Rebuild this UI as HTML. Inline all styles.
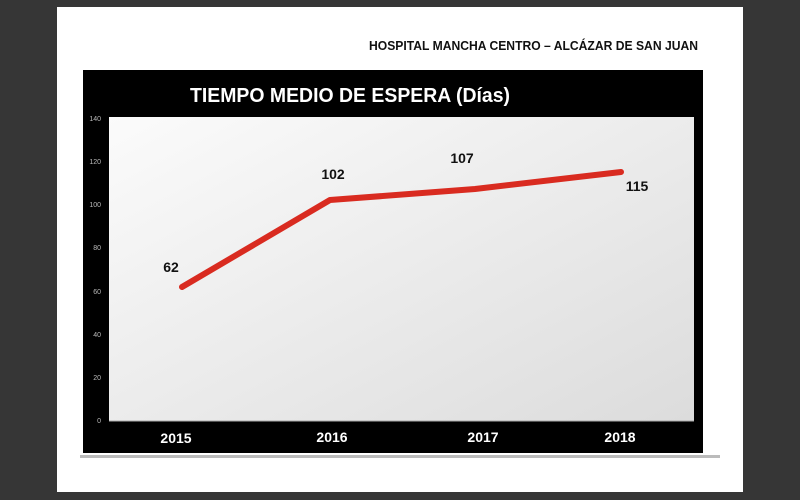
<!DOCTYPE html>
<html><head><meta charset="utf-8"><style>
body{margin:0;width:800px;height:500px;background:#333;overflow:hidden;font-family:"Liberation Sans",sans-serif}
</style></head><body>
<svg width="800" height="500" xmlns="http://www.w3.org/2000/svg" style="position:absolute;left:0;top:0">
<defs><linearGradient id="g" x1="0" y1="0" x2="1" y2="1"><stop offset="0" stop-color="#fbfbfb"/><stop offset="1" stop-color="#dcdcdc"/></linearGradient></defs>
<rect x="0" y="0" width="800" height="500" fill="#363636"/>
<rect x="57" y="7" width="686" height="485" fill="#fff"/>
<text x="369" y="50" textLength="329" lengthAdjust="spacingAndGlyphs" font-size="13" font-weight="bold" fill="#111">HOSPITAL MANCHA CENTRO – ALCÁZAR DE SAN JUAN</text>
<rect x="80" y="455" width="640" height="3" fill="#bbb"/>
<rect x="83" y="70" width="620" height="383" fill="#000"/>
<rect x="109" y="117" width="585" height="304" fill="url(#g)"/>
<line x1="109" y1="421" x2="694" y2="421" stroke="#aaa" stroke-width="1"/>
<text x="190" y="102" textLength="320" lengthAdjust="spacingAndGlyphs" font-size="20" font-weight="bold" fill="#fff">TIEMPO MEDIO DE ESPERA  (Días)</text>
<g font-size="7" fill="#bbb" text-anchor="end">
<text x="101" y="121">140</text><text x="101" y="164">120</text><text x="101" y="207">100</text><text x="101" y="250">80</text><text x="101" y="294">60</text><text x="101" y="337">40</text><text x="101" y="380">20</text><text x="101" y="423">0</text>
</g>
<g font-size="14" font-weight="bold" fill="#fff" text-anchor="middle">
<text x="176" y="443">2015</text><text x="332" y="442">2016</text><text x="483" y="442">2017</text><text x="620" y="442">2018</text>
</g>
<polyline points="182,287 330,200 475,189 621,172" fill="none" stroke="#d92b20" stroke-width="6" stroke-linecap="round" stroke-linejoin="round"/>
<g font-size="14" font-weight="bold" fill="#111" text-anchor="middle">
<text x="171" y="272">62</text><text x="333" y="179">102</text><text x="462" y="163">107</text><text x="637" y="191">115</text>
</g>
</svg>
</body></html>
